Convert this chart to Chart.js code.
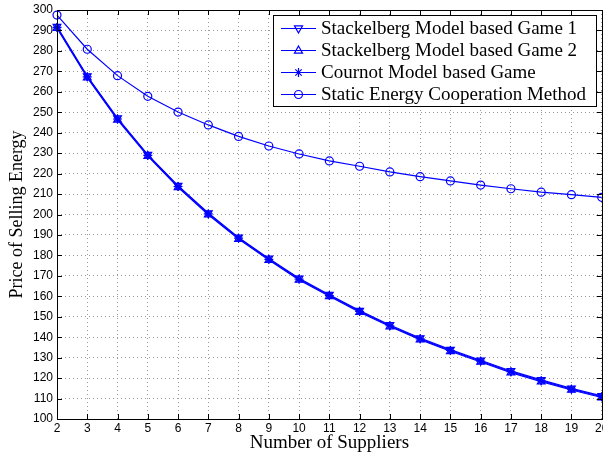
<!DOCTYPE html>
<html>
<head>
<meta charset="utf-8">
<script src="https://cdn.jsdelivr.net/npm/chart.js@4/dist/chart.umd.min.js"></script>
<style>
  html, body { margin: 0; padding: 0; background: #fff; }
  #wrap { width: 603px; height: 458px; }
</style>
</head>
<body>
<div id="wrap"><canvas id="priceChart" width="603" height="458"></canvas></div>
<script>
// 供應商數量 (x 軸)
const suppliers = [2, 3, 4, 5, 6, 7, 8, 9, 10, 11, 12, 13, 14, 15, 16, 17, 18, 19, 20];

// 各方法的售電價格
const stackelberg1 = [291.9, 267.7, 247.1, 229.3, 214.1, 200.7, 188.8, 178.5, 168.8, 160.8, 153.0, 146.0, 139.6, 133.9, 128.7, 123.5, 119.1, 115.0, 111.3];
const stackelberg2 = [291.1, 266.9, 246.3, 228.5, 213.3, 199.9, 188.0, 177.7, 168.0, 160.0, 152.2, 145.2, 138.8, 133.1, 127.9, 122.7, 118.3, 114.2, 110.5];
const cournot = [291.5, 267.3, 246.7, 228.9, 213.7, 200.3, 188.4, 178.1, 168.4, 160.4, 152.6, 145.6, 139.2, 133.5, 128.3, 123.1, 118.7, 114.6, 110.9];
const staticCoop = [297.5, 280.8, 267.9, 257.8, 250.1, 243.8, 238.2, 233.5, 229.6, 226.2, 223.6, 220.8, 218.5, 216.4, 214.4, 212.6, 210.9, 209.7, 208.4];

const seriesNames = [
  'Stackelberg Model based Game 1',
  'Stackelberg Model based Game 2',
  'Cournot Model based Game',
  'Static Energy Cooperation Method'
];

const xTitle = 'Number of Suppliers';
const yTitle = 'Price of Selling Energy';

const BLUE = '#0000ff';
const SERIF = "'Liberation Serif', 'Times New Roman', serif";
const SANS = "'Liberation Sans', Arial, sans-serif";

function toPoints(values) {
  return suppliers.map((s, i) => ({ x: s, y: values[i] }));
}

function makeSet(label, values, style, rotation, radius) {
  return {
    label: label,
    data: toPoints(values),
    borderColor: BLUE,
    backgroundColor: 'rgba(0,0,0,0)',
    borderWidth: 1.2,
    pointStyle: style,
    pointRotation: rotation,
    pointRadius: radius,
    pointBorderColor: BLUE,
    pointBackgroundColor: 'rgba(0,0,0,0)',
    pointBorderWidth: 1.2,
    tension: 0,
    fill: false,
    clip: false
  };
}

// 畫 MATLAB 風格的外框和內側刻度
const framePlugin = {
  id: 'frame',
  afterDraw(chart) {
    const { ctx, chartArea: a, scales: { x, y } } = chart;
    ctx.save();
    ctx.strokeStyle = '#000';
    ctx.lineWidth = 1;
    ctx.beginPath();
    x.ticks.forEach(t => {
      const px = Math.round(x.getPixelForValue(t.value)) + 0.5;
      ctx.moveTo(px, a.bottom); ctx.lineTo(px, a.bottom - 5);
      ctx.moveTo(px, a.top); ctx.lineTo(px, a.top + 5);
    });
    y.ticks.forEach(t => {
      const py = Math.round(y.getPixelForValue(t.value)) + 0.5;
      ctx.moveTo(a.left, py); ctx.lineTo(a.left + 5, py);
      ctx.moveTo(a.right, py); ctx.lineTo(a.right - 5, py);
    });
    ctx.stroke();
    ctx.strokeRect(Math.round(a.left) + 0.5, Math.round(a.top) + 0.5,
      Math.round(a.right - a.left), Math.round(a.bottom - a.top));
    ctx.restore();
  }
};

function drawMarker(ctx, style, rotation, cx, cy, r) {
  ctx.beginPath();
  if (style === 'circle') {
    ctx.arc(cx, cy, r, 0, Math.PI * 2);
  } else if (style === 'triangle') {
    const dir = rotation === 180 ? -1 : 1;
    ctx.moveTo(cx, cy - dir * r);
    ctx.lineTo(cx + r * 0.9, cy + dir * r * 0.6);
    ctx.lineTo(cx - r * 0.9, cy + dir * r * 0.6);
    ctx.closePath();
  } else if (style === 'star') {
    for (let k = 0; k < 4; k++) {
      const ang = k * Math.PI / 4;
      ctx.moveTo(cx - Math.cos(ang) * r, cy - Math.sin(ang) * r);
      ctx.lineTo(cx + Math.cos(ang) * r, cy + Math.sin(ang) * r);
    }
  }
  ctx.stroke();
}

// 圖例：放在圖內右上角，白底黑框
const boxLegendPlugin = {
  id: 'boxLegend',
  afterDraw(chart) {
    const ctx = chart.ctx;
    const left = 273.5, top = 15.5, right = 596.5, bottom = 106.5;
    ctx.save();
    ctx.fillStyle = '#fff';
    ctx.fillRect(left, top, right - left, bottom - top);
    ctx.strokeStyle = '#000';
    ctx.lineWidth = 1;
    ctx.strokeRect(left, top, right - left, bottom - top);
    ctx.font = '19px ' + SERIF;
    ctx.textBaseline = 'middle';
    ctx.textAlign = 'left';
    chart.data.datasets.forEach((ds, i) => {
      const ry = 28.5 + i * 22;
      ctx.strokeStyle = BLUE;
      ctx.lineWidth = 1.2;
      ctx.beginPath();
      ctx.moveTo(281, ry); ctx.lineTo(316, ry);
      ctx.stroke();
      drawMarker(ctx, ds.pointStyle, ds.pointRotation, 298.5, ry, ds.pointRadius);
      ctx.fillStyle = '#000';
      ctx.fillText(ds.label, 321, ry + 1);
    });
    ctx.restore();
  }
};

const ctx = document.getElementById('priceChart').getContext('2d');
const priceChart = new Chart(ctx, {
  type: 'line',
  data: {
    datasets: [
      makeSet(seriesNames[0], stackelberg1, 'triangle', 180, 4.5),
      makeSet(seriesNames[1], stackelberg2, 'triangle', 0, 4.5),
      makeSet(seriesNames[2], cournot, 'star', 0, 4.5),
      makeSet(seriesNames[3], staticCoop, 'circle', 0, 4)
    ]
  },
  options: {
    responsive: false,
    animation: false,
    layout: { autoPadding: false, padding: { top: 10, right: 1.3, left: 0, bottom: 0 } },
    plugins: {
      legend: { display: false },
      tooltip: { enabled: false }
    },
    scales: {
      x: {
        type: 'linear',
        min: 2,
        max: 20,
        grid: { color: '#999', drawTicks: false },
        border: { display: false, dash: [1, 3] },
        ticks: {
          stepSize: 1,
          autoSkip: false,
          maxRotation: 0,
          padding: 2,
          color: '#000',
          font: { family: SANS, size: 12 }
        },
        title: {
          display: true,
          text: xTitle,
          color: '#000',
          font: { family: SERIF, size: 19 },
          padding: { top: 0, bottom: 4 }
        },
        afterFit(scale) {
          scale.height = 39;
          scale.paddingLeft = 0;
          scale.paddingRight = 0;
        }
      },
      y: {
        min: 100,
        max: 300,
        grid: { color: '#999', drawTicks: false },
        border: { display: false, dash: [1, 3] },
        ticks: {
          stepSize: 10,
          padding: 4,
          color: '#000',
          font: { family: SANS, size: 12 }
        },
        title: {
          display: true,
          text: yTitle,
          color: '#000',
          font: { family: SERIF, size: 18 },
          padding: { top: 6, bottom: 0 }
        },
        afterFit(scale) {
          scale.width = 57;
          scale.paddingTop = 0;
          scale.paddingBottom = 0;
        }
      }
    }
  },
  plugins: [framePlugin, boxLegendPlugin]
});
</script>
</body>
</html>
